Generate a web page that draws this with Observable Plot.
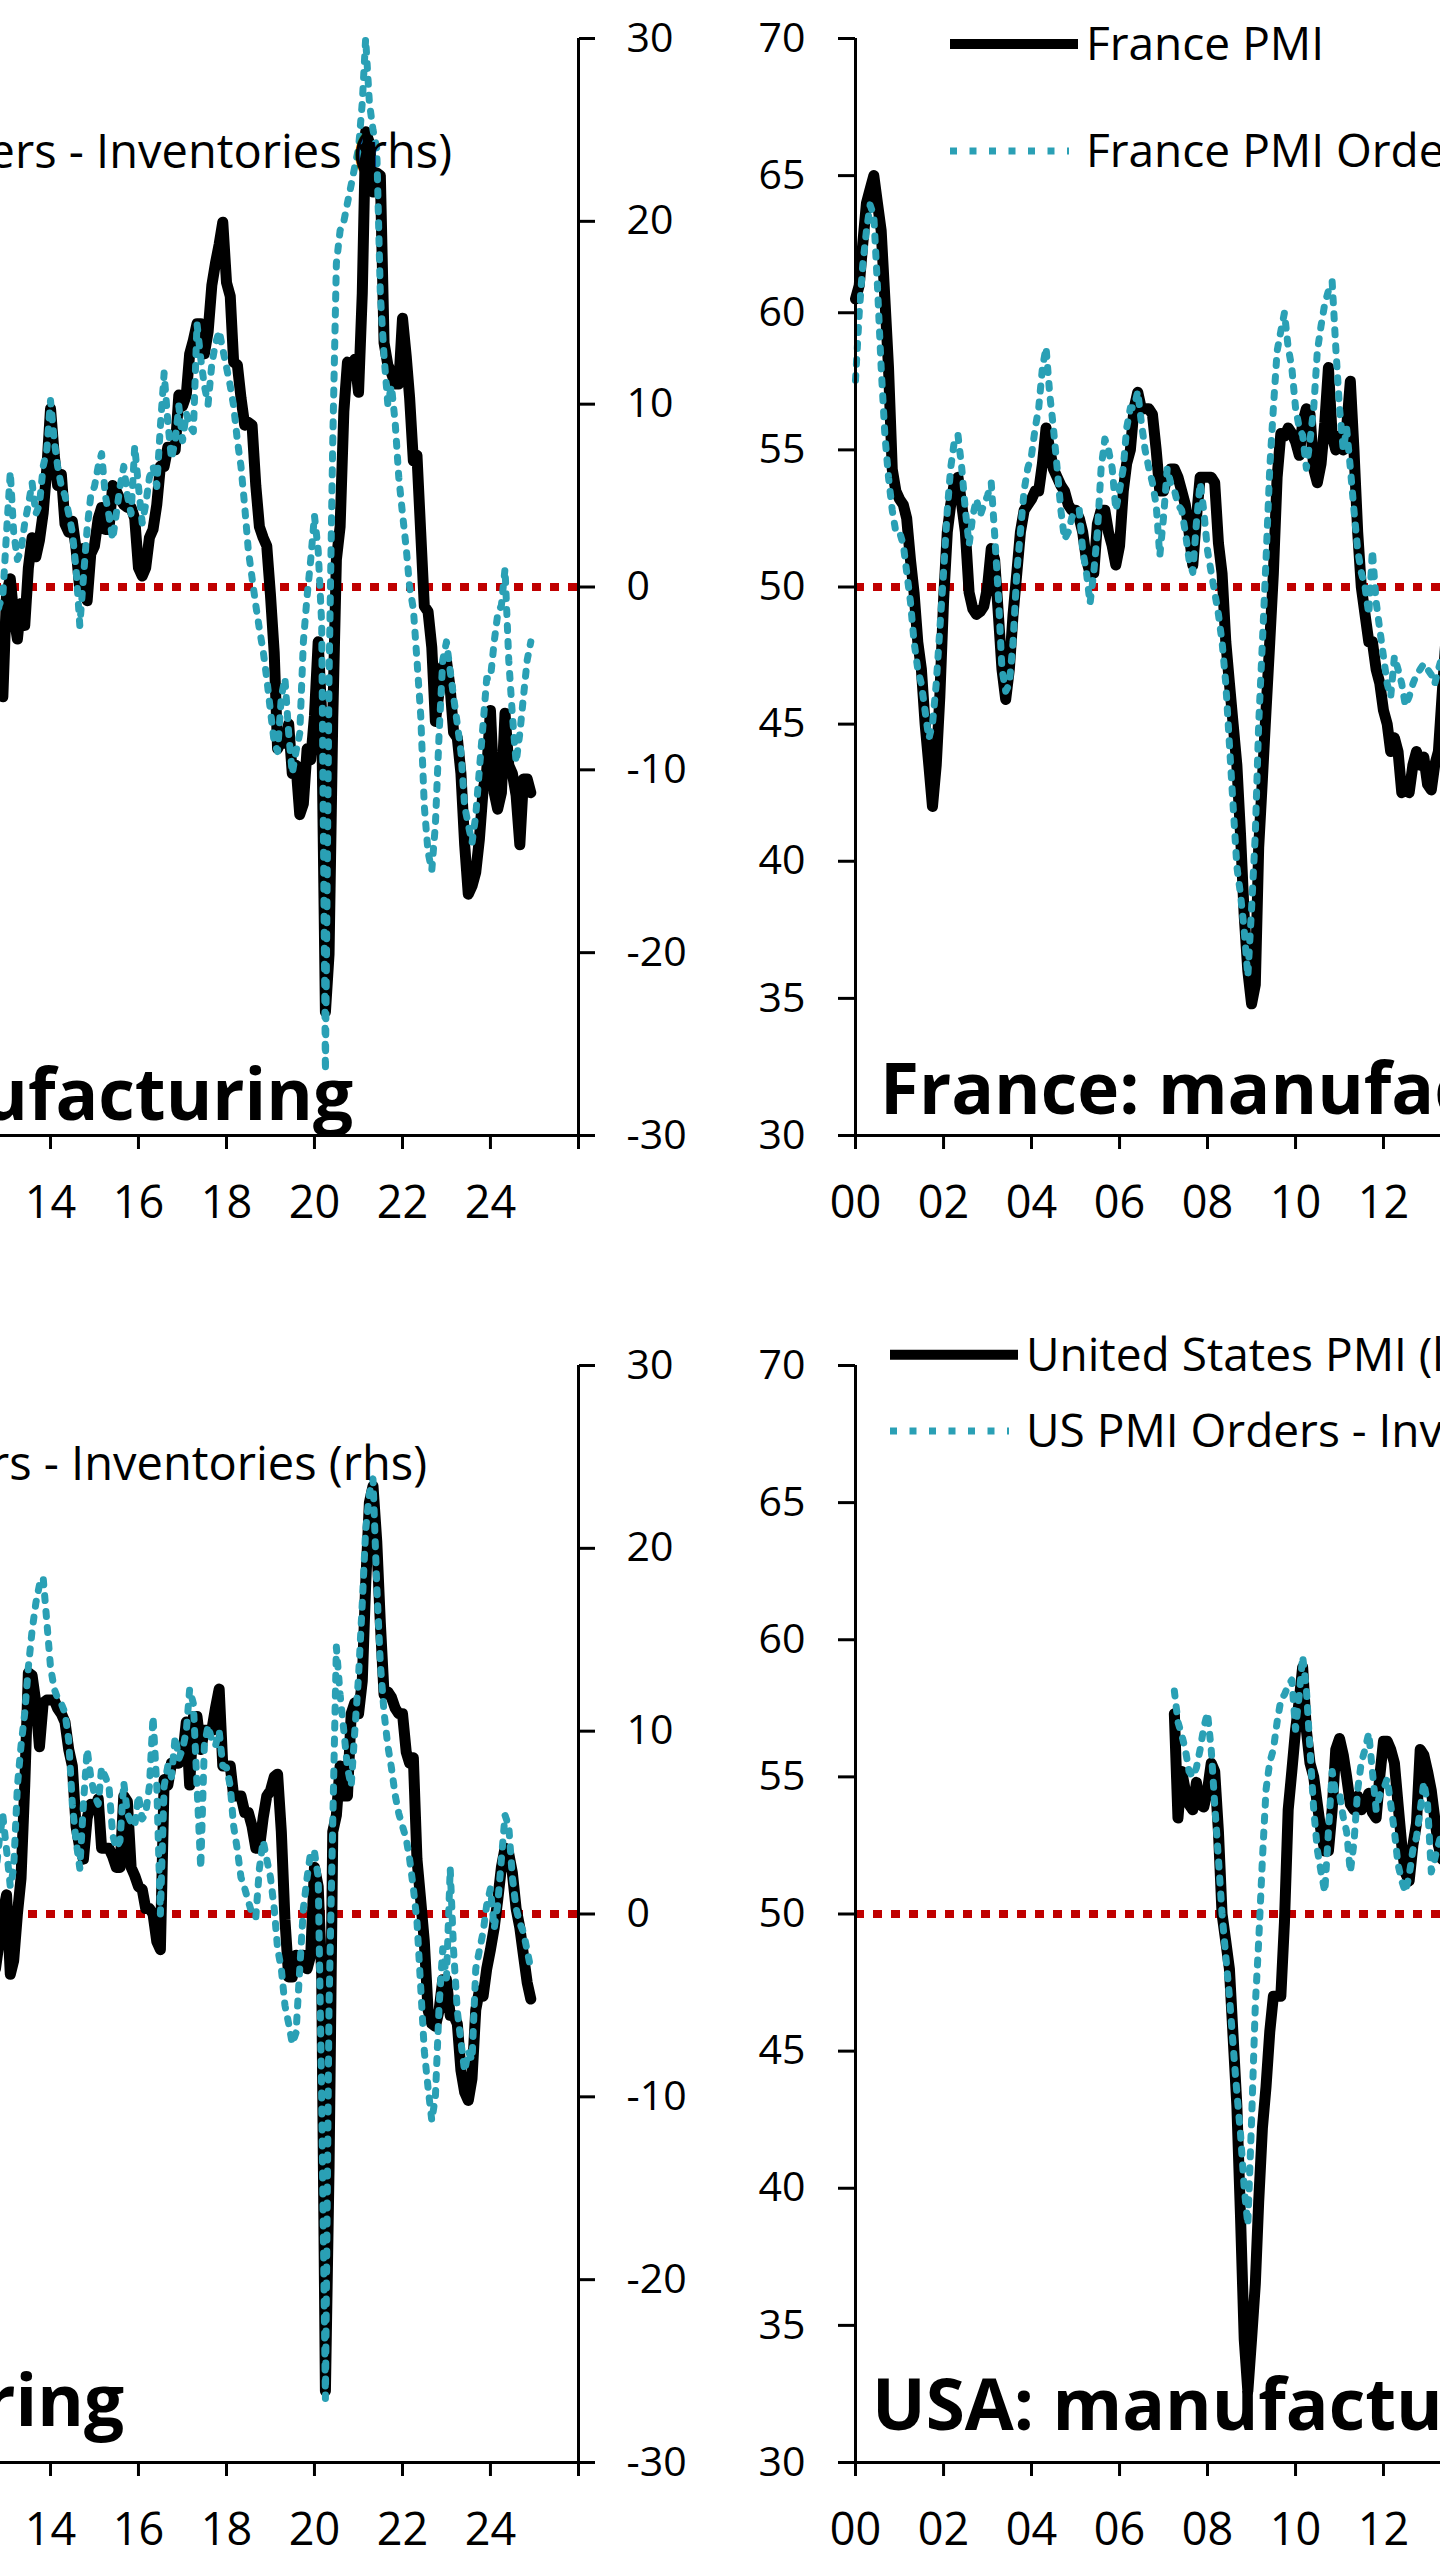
<!DOCTYPE html>
<html><head><meta charset="utf-8">
<script src="https://cdn.jsdelivr.net/npm/d3@7"></script>
<script src="https://cdn.jsdelivr.net/npm/@observablehq/plot@0.6"></script>
<style>
html,body{margin:0;padding:0;background:#fff;}
#page{position:relative;width:1440px;height:2560px;overflow:hidden;background:#fff;font-family:"Open Sans",sans-serif;}
#page svg{position:absolute;}
</style></head><body><div id="page"></div>
<script>
// ---------- DATA (monthly) ----------
const germanyStart = "2012-10";
const germanyPMI = [46.0,46.8,46.0,
 49.8,50.3,49.0,48.1,49.4,48.6,50.7,51.8,51.1,51.7,52.7,54.3,
 56.5,54.8,53.7,54.1,52.3,52.0,52.4,51.4,49.9,51.4,49.5,51.2,
 51.5,52.5,52.9,52.1,52.1,53.7,53.5,53.2,53.0,52.9,52.9,52.5,
 50.7,50.4,50.7,51.8,52.1,53.0,54.4,54.4,55.1,55.1,55.0,57.0,
 56.6,57.0,58.5,59.0,59.6,59.6,58.5,59.3,61.0,61.8,62.5,63.3,
 61.1,60.6,58.2,58.1,56.9,55.9,56.0,55.9,53.7,52.2,51.8,51.5,
 49.7,47.6,44.1,44.4,44.3,45.0,43.2,43.5,41.7,42.1,44.1,43.7,
 45.3,48.0,45.4,34.5,36.6,45.2,51.0,52.2,56.4,58.2,57.8,58.3,
 57.1,60.7,66.6,66.2,64.4,65.1,65.0,58.9,58.1,57.8,57.4,57.4,
 59.8,58.4,56.9,54.6,54.8,52.0,49.3,49.1,47.8,45.1,46.2,47.1,
 47.3,46.3,44.7,44.5,43.2,40.6,38.8,39.1,39.6,40.8,42.6,43.3,
 45.5,42.5,41.9,42.5,45.4,43.5,43.2,42.4,40.6,43.0,43.0,42.5];
const germanyOI = [-2.0,-1.0,-0.5,
 3.0,6.3,3.0,1.5,2.0,3.5,4.5,5.7,4.0,4.5,6.6,7.5,
 10.2,8.0,6.6,5.5,5.0,4.0,3.0,1.0,-2.1,0.5,3.2,5.0,
 5.5,6.6,7.3,5.0,3.9,2.6,4.0,5.5,6.6,5.0,4.0,7.7,
 5.5,3.5,4.5,6.0,6.6,5.5,8.8,11.7,9.0,7.0,8.0,9.9,
 8.0,9.5,8.8,8.5,14.4,12.5,11.0,10.0,12.2,13.3,14.0,13.0,
 12.0,11.0,9.9,8.0,6.6,4.4,2.0,0.5,-1.0,-2.3,-3.5,-5.0,
 -6.8,-8.5,-9.0,-6.0,-5.0,-8.0,-10.2,-9.0,-8.0,-3.0,-0.5,1.5,
 3.9,2.0,-2.0,-26.5,-5.0,8.0,17.7,19.5,20.0,21.0,22.0,23.0,
 24.0,26.5,30.0,26.5,25.0,24.0,16.0,12.6,10.0,11.0,9.0,6.0,
 4.0,2.1,0.0,-1.2,-4.0,-7.0,-12.0,-14.5,-15.5,-13.0,-8.0,-4.0,
 -3.0,-4.6,-6.0,-7.5,-9.0,-12.0,-13.0,-14.0,-12.5,-10.0,-7.5,-5.0,
 -5.0,-3.0,-1.5,-1.0,1.0,-4.0,-7.0,-9.6,-8.0,-6.0,-4.0,-3.0];

const franceStart = "2000-01";
const francePMI = [60.5,61.0,62.5,64.0,64.5,65.0,64.0,63.0,60.5,58.0,54.3,53.5,
 53.2,53.0,52.5,51.0,49.8,48.0,47.0,45.0,43.5,42.0,43.5,46.0,
 49.5,52.0,53.0,53.8,54.0,53.0,52.0,49.8,49.2,49.0,49.1,49.3,
 50.0,51.4,51.0,49.0,47.0,45.9,47.0,49.0,50.5,52.0,52.8,53.0,
 53.2,53.5,53.5,54.5,55.8,55.0,54.3,54.0,53.7,53.5,53.0,52.8,
 52.8,52.5,52.0,51.0,50.5,50.5,52.3,52.8,52.8,52.0,51.5,50.8,
 51.5,53.5,54.5,55.0,56.5,57.1,56.5,56.5,56.5,56.3,55.0,53.5,
 53.5,54.0,54.3,54.3,54.0,53.5,53.0,52.0,50.8,52.5,54.0,54.0,
 54.0,54.0,53.8,51.6,50.5,48.0,46.5,45.0,43.5,41.0,38.0,36.0,
 34.8,35.5,40.5,43.0,45.5,48.0,50.5,54.0,55.6,55.5,55.8,55.6,
 55.3,54.8,56.0,56.5,56.3,54.3,53.8,54.5,56.0,58.0,55.5,55.0,
 55.5,55.0,55.8,57.5,55.0,52.0,50.0,49.0,48.0,48.0,47.0,46.5,
 45.5,45.0,44.0,44.5,44.0,42.5,42.8,42.5,43.5,44.0,43.5,43.8,
 42.8,42.6,43.5,44.0,46.0,48.0];
const franceOI = [11.3,15.0,17.6,19.5,20.9,20.3,16.5,12.0,8.3,6.0,4.2,3.0,
 3.0,2.3,0.8,-0.8,-3.0,-4.5,-5.3,-6.8,-8.3,-7.5,-5.3,-2.3,
 0.8,4.2,6.5,8.0,8.3,6.5,4.2,2.3,3.9,4.8,3.9,4.5,
 5.0,5.7,2.9,-0.5,-4.5,-5.7,-5.3,-3.0,0.8,3.0,5.3,6.5,
 7.2,8.7,9.8,12.0,13.1,10.5,8.7,6.5,4.2,2.6,3.0,3.8,
 4.2,4.2,2.0,0.8,-0.9,0.8,3.0,6.5,8.1,7.5,6.5,4.2,
 5.3,6.5,8.7,9.8,9.8,10.7,9.0,7.5,6.5,5.7,4.5,1.7,
 3.8,6.5,5.7,5.3,4.5,4.2,3.0,1.5,0.8,3.5,5.7,4.2,
 2.0,0.8,-0.3,-1.5,-3.0,-5.3,-8.6,-12.0,-15.3,-16.8,-18.8,-21.3,
 -17.6,-13.5,-7.5,-3.0,1.5,6.5,9.8,12.9,14.0,15.0,13.1,12.0,
 9.8,8.7,8.3,6.5,8.0,9.8,12.9,14.3,15.5,16.2,16.7,13.1,
 9.8,7.5,8.7,6.5,4.2,2.0,0.8,0.0,-1.5,2.0,-0.8,-2.3,
 -3.8,-5.3,-6.0,-3.8,-4.5,-5.3,-6.5,-6.0,-5.3,-4.8,-4.5,-4.2,
 -4.5,-4.8,-5.3,-4.5,-3.8,-3.0];

const ukStart = "2012-10";
const ukPMI = [48.0,49.0,50.0,
 50.7,47.8,48.3,50.0,51.3,54.7,58.8,58.7,57.7,56.1,57.7,57.8,
 57.8,57.8,57.5,57.3,57.0,56.0,55.4,53.2,52.4,52.0,53.5,54.0,
 53.8,54.2,52.4,52.4,52.4,52.1,51.7,51.7,54.3,54.1,51.7,51.4,
 51.0,50.9,50.2,50.2,50.0,49.0,48.7,54.9,54.7,55.5,55.5,55.5,
 55.7,57.0,54.7,57.2,57.2,56.0,56.7,56.7,56.7,57.5,58.2,55.4,
 55.4,55.4,54.3,54.3,54.3,53.7,53.7,53.2,52.4,52.4,53.5,54.3,
 54.5,55.0,55.1,53.0,49.8,47.7,47.7,48.5,48.3,48.5,48.0,48.5,
 51.7,51.0,47.8,32.6,40.7,53.0,53.6,55.4,54.3,54.3,57.3,57.7,
 57.3,58.5,62.0,65.0,65.6,63.6,60.6,58.0,58.1,57.9,57.5,57.3,
 57.3,55.9,55.5,55.7,52.0,50.5,49.0,46.5,46.0,45.9,46.5,47.6,
 47.6,46.3,46.3,46.0,44.3,43.5,43.2,44.0,46.5,47.2,47.0,48.0,
 48.7,49.5,50.5,51.7,52.4,52.2,51.5,50.2,49.5,48.5,47.5,46.9];
const ukOI = [2.0,4.0,5.4,
 3.5,1.5,2.5,7.0,9.2,11.0,13.5,15.5,17.0,18.0,18.4,16.0,
 13.5,12.3,11.8,11.5,11.0,9.5,6.0,4.0,2.5,6.0,9.0,7.5,
 6.5,6.0,8.0,7.5,7.0,4.3,3.6,4.0,7.2,5.5,5.0,4.8,
 6.5,5.2,5.5,7.0,10.8,7.0,0.0,7.0,8.1,7.5,9.7,8.5,
 9.0,10.0,12.3,11.5,7.0,2.5,9.2,10.3,9.5,9.2,10.0,8.1,
 8.0,7.0,4.8,3.5,2.0,1.4,0.7,0.0,-0.2,2.5,4.0,3.0,
 2.0,0.3,-1.9,-3.0,-5.0,-6.0,-7.1,-6.5,-3.0,0.3,2.0,3.4,
 3.4,2.0,-10.0,-26.5,-5.0,5.0,14.6,12.0,10.0,8.0,7.0,10.0,
 13.0,17.0,21.0,23.0,23.8,18.0,13.7,11.0,9.2,8.0,6.5,5.5,
 4.8,4.1,3.0,1.4,-0.4,-4.0,-7.5,-9.5,-11.3,-10.0,-5.0,-1.9,
 -3.5,2.5,-2.0,-5.3,-7.0,-8.6,-7.5,-8.0,-3.0,-2.0,-1.0,0.5,
 1.4,-0.8,0.5,3.0,5.4,4.8,2.0,0.3,-0.5,-1.0,-2.0,-3.0];

const usStart = "2007-04";
const usPMI = [57.3,53.5,55.2,54.5,54.0,53.8,54.8,54.0,53.9,
 54.5,55.5,55.2,53.0,50.0,49.0,48.0,45.5,43.0,39.0,34.5,32.6,
 34.5,36.5,39.5,42.2,43.7,45.7,47.0,47.0,47.0,49.7,53.8,55.2,
 56.7,57.8,59.0,56.7,55.5,55.0,54.0,53.0,52.3,52.3,53.8,56.0,
 56.4,55.8,55.0,54.0,53.8,54.3,53.8,54.0,54.4,53.7,53.5,55.0,
 56.3,56.3,56.0,55.5,54.0,52.5,51.5,51.2,52.5,53.3,56.0,55.8,
 55.2,54.5,53.5,52.5,52.0];
const usOI = [12.2,10.5,9.8,9.0,7.8,7.5,8.0,9.0,10.2,
 11.0,9.0,6.0,3.0,0.0,-2.3,-4.5,-7.2,-9.8,-12.0,-15.0,-17.0,
 -11.3,-5.0,-1.5,3.0,6.8,8.3,9.0,10.5,11.7,12.0,12.5,12.8,
 10.1,12.0,14.1,12.3,9.0,5.7,3.5,2.3,1.2,4.5,7.8,6.6,
 6.6,5.3,4.5,2.3,3.9,6.8,8.3,9.0,9.9,7.8,5.7,6.5,
 6.8,7.4,6.0,4.5,2.7,1.8,1.2,2.1,3.5,4.2,5.7,7.2,
 6.0,2.3,3.0,3.8,4.5];

const lhsTicks = [30,35,40,45,50,55,60,65,70];
const rhsTicks = [-30,-20,-10,0,10,20,30];
const xYears = [2000,2002,2004,2006,2008,2010,2012,2014,2016,2018,2020,2022,2024,2026];

// ---------- HELPERS ----------
const TEAL = "#2aa0b5", RED = "#c00000";
const toL = v => 50 + v / 1.5;           // rhs value -> position on the lhs scale
const utc = y => new Date(Date.UTC(y, 0, 1));
function table(start, pmi, oi) {
  const [y, m] = start.split("-").map(Number);
  const s = new Date(Date.UTC(y, m - 1, 1));
  return pmi.map((p, i) => ({date: d3.utcMonth.offset(s, i), pmi: p, oi: oi[i]}));
}

const PW = 1144, PH = 1097, ML = 130, MR = 130, MT = 40, MB = 110, PAGE_W = 1440;
// only the part of each panel that falls inside the page is labelled
function panel(rows, px, side) {
  const yearX = y => px + PW * (y - 2000) / 26;
  const ticks = xYears.filter(y => yearX(y) >= 0 && yearX(y) <= PAGE_W).map(utc);
  const yAxis = side === "left"
    ? Plot.axisY({anchor: "left", ticks: lhsTicks, tickSize: 17, tickPadding: 33, strokeWidth: 3, label: null, tickFormat: d => String(d)})
    : Plot.axisY({anchor: "right", ticks: rhsTicks.map(toL), tickSize: 16, tickPadding: 32, strokeWidth: 3, label: null,
        tickFormat: d => String(Math.round((d - 50) * 1.5))});
  return Plot.plot({
    width: ML + PW + MR, height: MT + PH + MB,
    marginLeft: ML, marginRight: MR, marginTop: MT, marginBottom: MB,
    style: {fontFamily: "Open Sans", fontSize: "41px", color: "#000", background: "transparent"},
    x: {type: "utc", domain: [utc(2000), utc(2026)], label: null},
    y: {domain: [30, 70], label: null},
    marks: [
      Plot.ruleY([50], {stroke: RED, strokeWidth: 8, strokeDasharray: "9 9"}),
      Plot.line(rows, {x: "date", y: "pmi", stroke: "#000", strokeWidth: 11, strokeLinejoin: "round", strokeLinecap: "round"}),
      Plot.line(rows, {x: "date", y: d => toL(d.oi), stroke: TEAL, strokeWidth: 7, strokeDasharray: "5 11"}),
      Plot.ruleX([utc(2000), utc(2026)], {stroke: "#000", strokeWidth: 3}),
      Plot.ruleY([30], {stroke: "#000", strokeWidth: 3}),
      Plot.axisX({ticks, tickSize: 14, tickPadding: 37, strokeWidth: 3, fontSize: 45, label: null,
        tickFormat: d => d.getUTCFullYear() === 2026 ? "" : String(d.getUTCFullYear() % 100).padStart(2, "0")}),
      yAxis
    ]
  });
}

// panel placement (plot-area origin in page pixels)
const LEFT_X = -566, RIGHT_X = 855, TOP_Y = 37.5, BOT_Y = 1364.5;
const page = document.getElementById("page");
function place(rows, px, py, side) {
  const svg = panel(rows, px, side);
  svg.style.left = (px - ML) + "px";
  svg.style.top = (py - MT) + "px";
  page.appendChild(svg);
}
place(table(germanyStart, germanyPMI, germanyOI), LEFT_X, TOP_Y, "right");
place(table(franceStart, francePMI, franceOI), RIGHT_X, TOP_Y, "left");
place(table(ukStart, ukPMI, ukOI), LEFT_X, BOT_Y, "right");
place(table(usStart, usPMI, usOI), RIGHT_X, BOT_Y, "left");

// ---------- LEGENDS & TITLES ----------
const ov = d3.select(page).append("svg").attr("width", 1440).attr("height", 2560)
  .style("left", "0px").style("top", "0px")
  .attr("font-family", "Open Sans");
function sample(x0, x1, y, kind) {
  const l = ov.append("line").attr("x1", x0).attr("x2", x1).attr("y1", y).attr("y2", y);
  if (kind === "line") l.attr("stroke", "#000").attr("stroke-width", 10);
  else l.attr("stroke", TEAL).attr("stroke-width", 7).attr("stroke-dasharray", "7 12.5");
}
function label(x, y, txt, size, anchor) {
  return ov.append("text").attr("x", x).attr("y", y + 0.357 * size).attr("font-size", size)
    .attr("text-anchor", anchor || "start").attr("fill", "#000").text(txt);
}
// right-hand panels: full legend
function legendStart(x, y1, y2, t1, t2) {
  sample(x - 136, x - 8, y1, "line"); label(x, y1, t1, 46);
  sample(x - 136, x - 17, y2, "dots"); label(x, y2, t2, 46);
}
// left-hand panels: only the tail of the second row is inside the page
function legendEnd(xEnd, y2, t2) {
  label(xEnd, y2, t2, 47, "end");
}
legendEnd(452, 151, "Germany PMI Orders - Inventories (rhs)");
legendStart(1086, 44, 151, "France PMI", "France PMI Orders - Inventories (rhs)");
legendEnd(427, 1463.7, "UK PMI Orders - Inventories (rhs)");
legendStart(1026, 1354.7, 1431, "United States PMI (lhs)", "US PMI Orders - Inventories (rhs)");

function title(x, y, txt, anchor) {
  ov.append("text").attr("x", x).attr("y", y).attr("font-size", 71).attr("font-weight", 700)
    .attr("text-anchor", anchor).attr("fill", "#000").text(txt);
}
title(353, 1120, "Germany: manufacturing", "end");
title(880, 1113.5, "France: manufacturing", "start");
title(124, 2426, "UK: manufacturing", "end");
title(872, 2430, "USA: manufacturing", "start");
</script></body></html>
